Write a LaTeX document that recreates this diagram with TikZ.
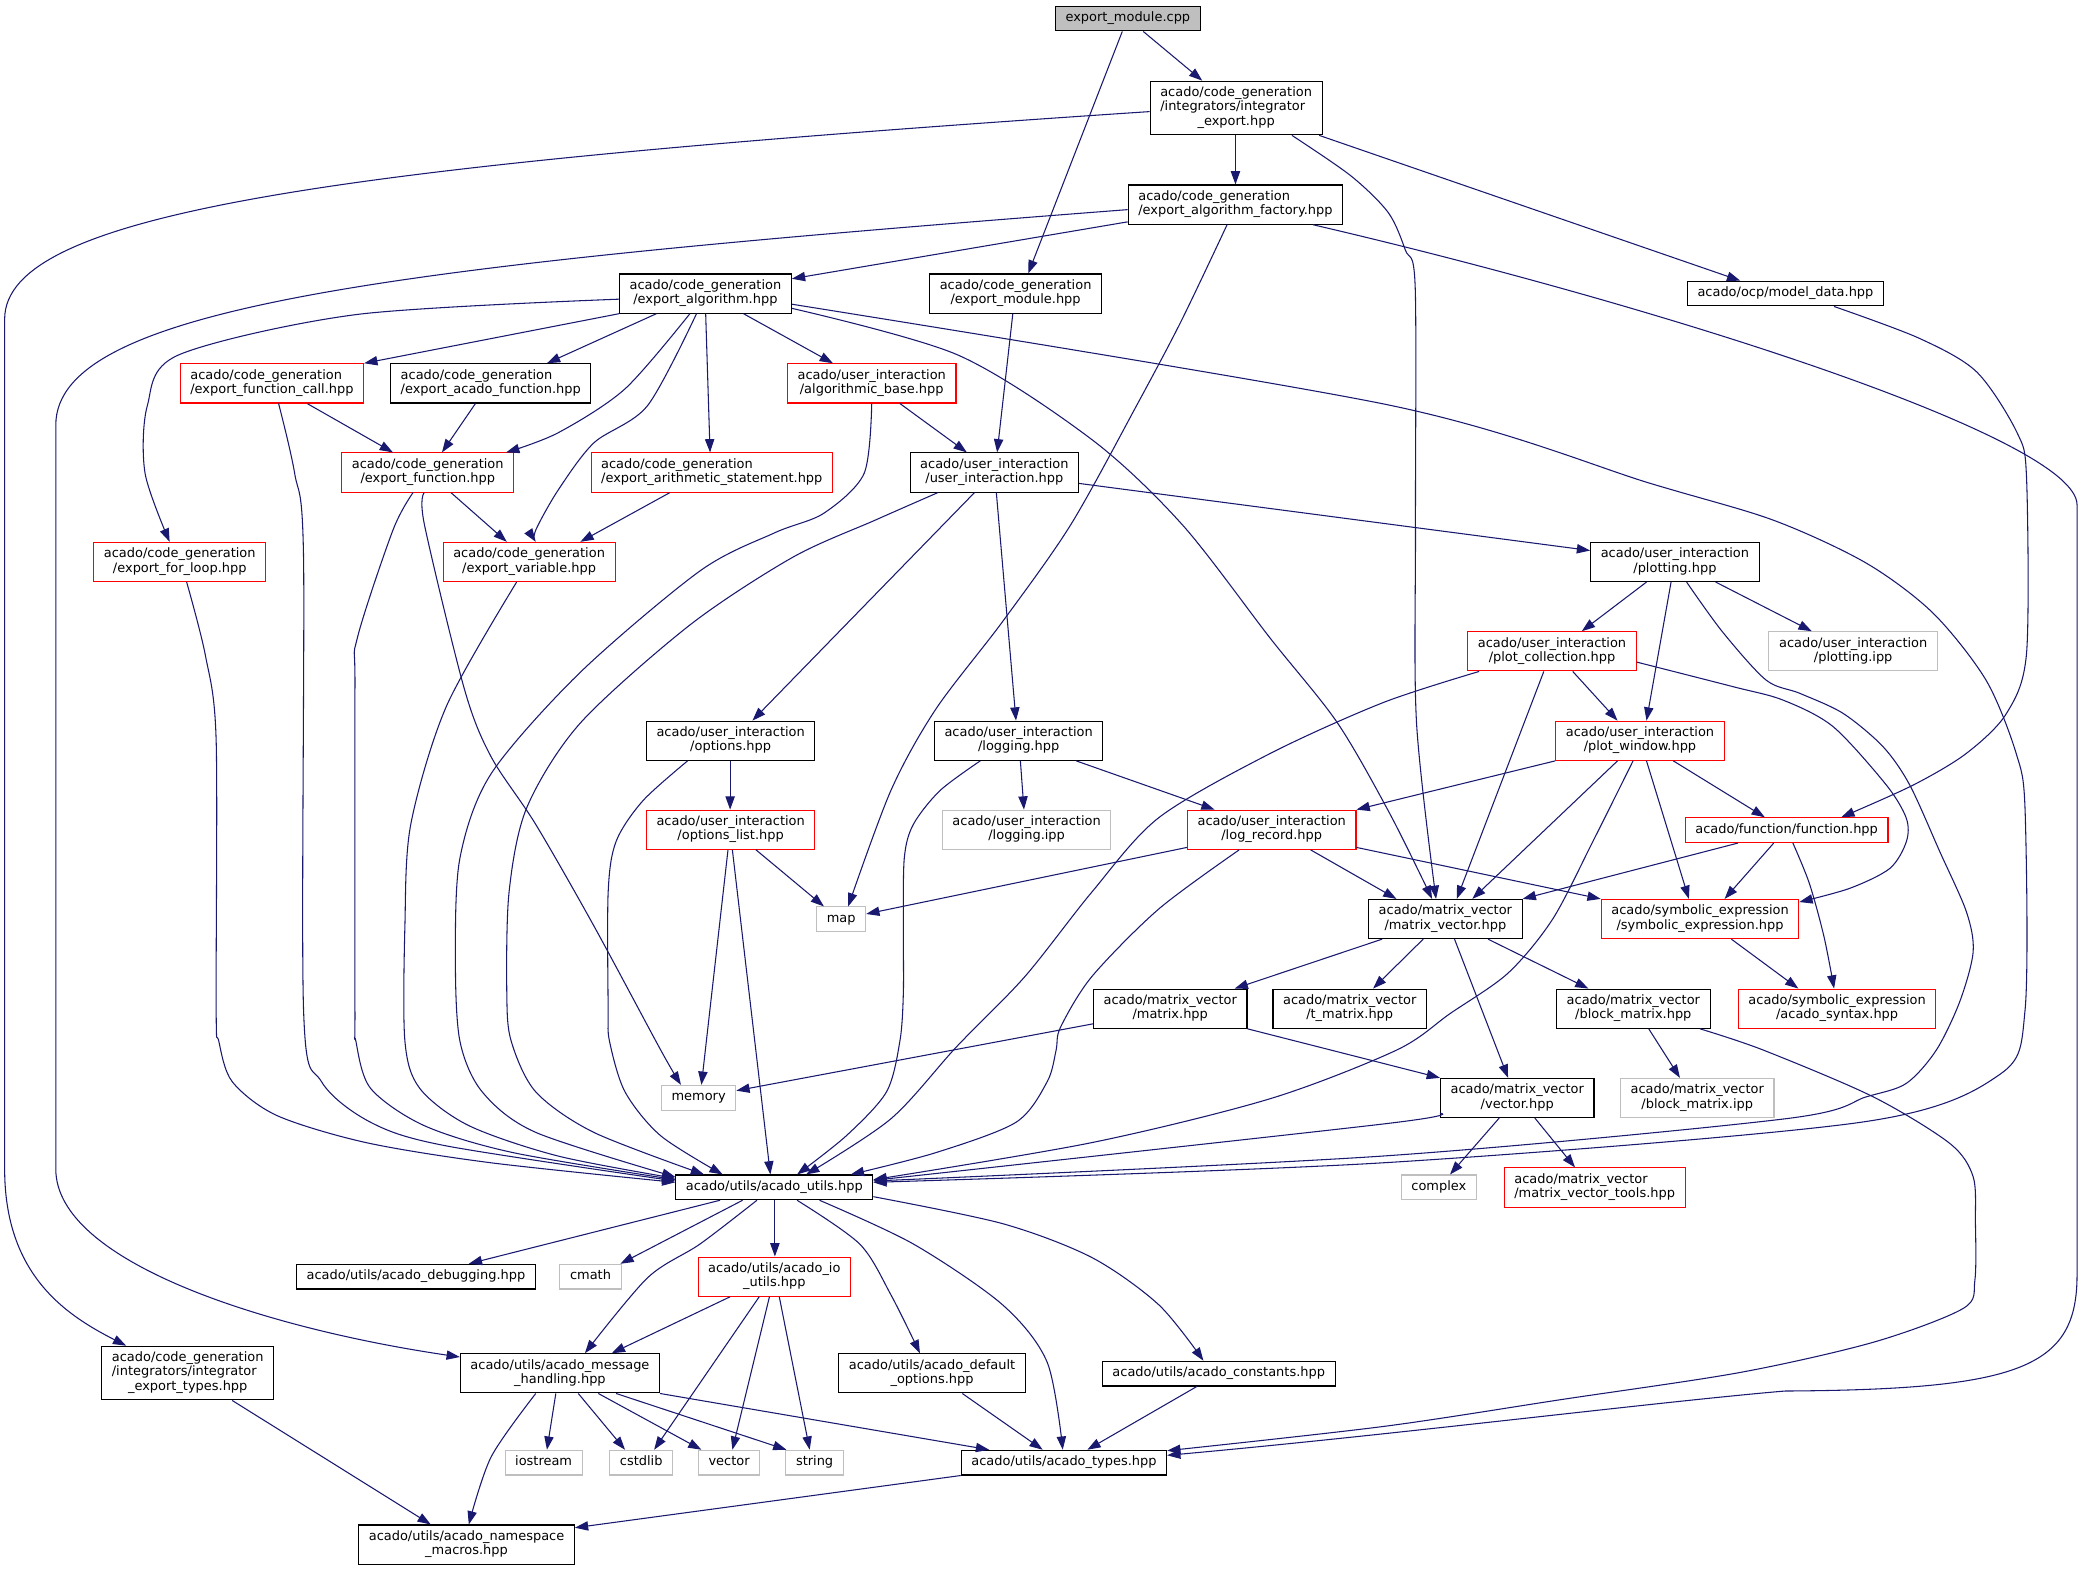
\documentclass[tikz,border=0pt]{standalone}
\usepackage{fontspec}
\setmainfont{DejaVu Sans}
\usetikzlibrary{arrows.meta}
\definecolor{edgec}{HTML}{191970}
\definecolor{grayc}{HTML}{BFBFBF}
\definecolor{rootc}{HTML}{BFBFBF}
\newcommand{\nodefont}{\fontsize{9.75}{10.9}\selectfont}
\newcommand{\oneL}[1]{\begin{tabular}{@{}c@{}}#1\end{tabular}}
\newcommand{\twoL}[2]{\begin{tabular}{@{}l@{}}#1\\\multicolumn{1}{@{}c@{}}{#2}\end{tabular}}
\newcommand{\threeL}[3]{\begin{tabular}{@{}l@{}}#1\\#2\\\multicolumn{1}{@{}c@{}}{#3}\end{tabular}}
\tikzset{
  nb/.style={draw=black, fill=white, line width=0.8pt, inner xsep=7.6pt, inner ysep=3.85pt, font=\nodefont},
  nr/.style={nb, draw=red},
  ng/.style={nb, draw=grayc},
  nroot/.style={nb, fill=rootc},
  edg/.style={draw=edgec, line width=0.8pt, -{Triangle[length=10pt,width=7pt]}},
}
\begin{document}
\begin{tikzpicture}[x=1pt,y=-1pt]
\fill[white] (0,0) rectangle (1568,1183);
\useasboundingbox (0,0) rectangle (1568,1183);
% ---------- nodes ----------
\node[nroot] (A) at (849,14) {\oneL{export\_module.cpp}};
\node[nb] (B) at (930.5,81.3) {\threeL{acado/code\_generation}{/integrators/integrator}{\_export.hpp}};
\node[nb] (C) at (930,154) {\twoL{acado/code\_generation}{/export\_algorithm\_factory.hpp}};
\node[nb] (D) at (531,221) {\twoL{acado/code\_generation}{/export\_algorithm.hpp}};
\node[nb] (E) at (764.5,221) {\twoL{acado/code\_generation}{/export\_module.hpp}};
\node[nb] (F) at (1344,221) {\oneL{acado/ocp/model\_data.hpp}};
\node[nr] (G) at (204.7,288.6) {\twoL{acado/code\_generation}{/export\_function\_call.hpp}};
\node[nb] (H) at (369.4,288.6) {\twoL{acado/code\_generation}{/export\_acado\_function.hpp}};
\node[nr] (I) at (656.2,288.6) {\twoL{acado/user\_interaction}{/algorithmic\_base.hpp}};
\node[nr] (J) at (322,355.7) {\twoL{acado/code\_generation}{/export\_function.hpp}};
\node[nr] (K) at (535.8,355.7) {\twoL{acado/code\_generation}{/export\_arithmetic\_statement.hpp}};
\node[nb] (L) at (748.5,355.7) {\twoL{acado/user\_interaction}{/user\_interaction.hpp}};
\node[nr] (M) at (135.3,423) {\twoL{acado/code\_generation}{/export\_for\_loop.hpp}};
\node[nr] (N) at (398.3,423) {\twoL{acado/code\_generation}{/export\_variable.hpp}};
\node[nb] (O) at (1260.8,423) {\twoL{acado/user\_interaction}{/plotting.hpp}};
\node[nr] (P) at (1168.3,490.3) {\twoL{acado/user\_interaction}{/plot\_collection.hpp}};
\node[ng] (Q) at (1395,490.3) {\twoL{acado/user\_interaction}{/plotting.ipp}};
\node[nr] (R) at (1234.5,557.6) {\twoL{acado/user\_interaction}{/plot\_window.hpp}};
\node[nb] (S) at (550,557.6) {\twoL{acado/user\_interaction}{/options.hpp}};
\node[nb] (T) at (766.8,557.6) {\twoL{acado/user\_interaction}{/logging.hpp}};
\node[nr] (U) at (550,624.6) {\twoL{acado/user\_interaction}{/options\_list.hpp}};
\node[ng] (V) at (772.8,624.6) {\twoL{acado/user\_interaction}{/logging.ipp}};
\node[nr] (W) at (957.3,624.6) {\twoL{acado/user\_interaction}{/log\_record.hpp}};
\node[nr] (X) at (1344.9,624.9) {\oneL{acado/function/function.hpp}};
\node[ng] (Y) at (633.2,692) {\oneL{map}};
\node[nb] (Z) at (1088,691.8) {\twoL{acado/matrix\_vector}{/matrix\_vector.hpp}};
\node[nr] (AA) at (1279.7,691.8) {\twoL{acado/symbolic\_expression}{/symbolic\_expression.hpp}};
\node[nb] (AB) at (880.9,759.3) {\twoL{acado/matrix\_vector}{/matrix.hpp}};
\node[nb] (AC) at (1016,759.3) {\twoL{acado/matrix\_vector}{/t\_matrix.hpp}};
\node[nb] (AD) at (1229.5,759.3) {\twoL{acado/matrix\_vector}{/block\_matrix.hpp}};
\node[nr] (AE) at (1382.9,759.3) {\twoL{acado/symbolic\_expression}{/acado\_syntax.hpp}};
\node[ng] (AF) at (525.9,826.3) {\oneL{memory}};
\node[nb] (AG) at (1142.1,826.5) {\twoL{acado/matrix\_vector}{/vector.hpp}};
\node[ng] (AH) at (1277.6,826.5) {\twoL{acado/matrix\_vector}{/block\_matrix.ipp}};
\node[nb] (AI) at (582.9,893.8) {\oneL{acado/utils/acado\_utils.hpp}};
\node[ng] (AJ) at (1083.1,893.8) {\oneL{complex}};
\node[nr] (AK) at (1200.4,893.9) {\twoL{acado/matrix\_vector}{/matrix\_vector\_tools.hpp}};
\node[nb] (AL) at (313.1,961) {\oneL{acado/utils/acado\_debugging.hpp}};
\node[ng] (AM) at (444.5,961) {\oneL{cmath}};
\node[nr] (AN) at (582.9,961) {\twoL{acado/utils/acado\_io}{\_utils.hpp}};
\node[nb] (AO) at (141.3,1033.6) {\threeL{acado/code\_generation}{/integrators/integrator}{\_export\_types.hpp}};
\node[nb] (AP) at (421.5,1033.8) {\twoL{acado/utils/acado\_message}{\_handling.hpp}};
\node[nb] (AQ) at (701.6,1033.8) {\twoL{acado/utils/acado\_default}{\_options.hpp}};
\node[nb] (AR) at (917.4,1034) {\oneL{acado/utils/acado\_constants.hpp}};
\node[ng] (AS) at (409.2,1101) {\oneL{iostream}};
\node[ng] (AT) at (482.7,1101) {\oneL{cstdlib}};
\node[ng] (AU) at (548.8,1101) {\oneL{vector}};
\node[ng] (AV) at (613.2,1101) {\oneL{string}};
\node[nb] (AW) at (800.9,1101) {\oneL{acado/utils/acado\_types.hpp}};
\node[nb] (AX) at (351.2,1162.7) {\twoL{acado/utils/acado\_namespace}{\_macros.hpp}};
% ---------- edges ----------
\draw[edg] (A.south -| 860.6,0) -- (B.north -| 905,0);
\draw[edg] (A.south -| 844.8,0) -- (E.north -| 774,0);
\draw[edg] (B.south -| 930,0) -- (C.north -| 930,0);
\draw[edg] (B.south -| 993,0) -- (F.north -| 1310,0);
\draw[edg] plot[smooth,tension=0.5] coordinates {(B.south -| 972.5,0) (1016.8,132.3) (1045,160) (1057.9,188.3) (1065.3,216.3) (1065.5,400) (1066.3,544.2) (Z.north -| 1081,0)};
\draw[edg] (B.west |- 0,84) .. controls (250,125) and (4,160) .. (3.5,240) -- (3.5,880) .. controls (3.5,960) and (50,990) .. (AO.north -| 95,0);
\draw[edg] (C.west |- 0,167) -- ([yshift=-4pt]D.north east);
\draw[edg] plot[smooth,tension=0.5] coordinates {(C.south -| 923.7,0) (889.1,241.8) (855.5,305.4) (806,395) (754.7,467.9) (704.3,534) (670.6,595.1) (Y.north -| 638.5,0)};
\draw[edg] (C.west |- 0,157.8) .. controls (300,200) and (42,230) .. (42,320) -- (42,880) .. controls (42,950) and (200,1000) .. (AP.west |- 0,1021.5);
\draw[edg] (C.south -| 988.3,0) .. controls (1250,230) and (1563.5,330) .. (1563.5,380) -- (1563.5,960) .. controls (1563.5,1030) and (1520,1046) .. (1343.6,1047.1) .. controls (1250,1055) and (1050,1080) .. (AW.east |- 0,1095.5);
% export_algorithm
\draw[edg] plot[smooth,tension=0.5] coordinates {(D.west |- 0,225.2) (268.9,236.7) (134.4,267.2) (110.9,305.4) (109.2,356.3) (M.north -| 127.7,0)};
\draw[edg] (D.south west) -- (G.north east);
\draw[edg] (D.south -| 494.1,0) -- (H.north -| 411.7,0);
\draw[edg] plot[smooth,tension=0.5] coordinates {(D.south -| 519.3,0) (470.5,292.7) (420.1,325.8) (J.north -| 381,0)};
\draw[edg] plot[smooth,tension=0.5] coordinates {(D.south -| 524.3,0) (487.4,305.4) (447,333.4) (420.1,369) (403.3,399) (N.north -| 403.3,0)};
\draw[edg] (D.south -| 531.2,0) -- (K.north -| 534.5,0);
\draw[edg] (D.south -| 559.7,0) -- (I.north -| 627,0);
\draw[edg] plot[smooth,tension=0.5] coordinates {(D.east |- 0,232.1) (721,267.2) (821.9,330.9) (890,395) (956.3,480.6) (1006.8,544.2) (1046.4,612.9) (Z.north -| 1078,0)};
\draw[edg] plot[smooth,tension=0.5] coordinates {(D.east |- 0,229) (1046,305) (1242.7,364) (1334.7,391.5) (1404.7,423.8) (1455.1,461.5) (1495,512) (1517.6,566.9) (1524.4,610) (1524.4,760) (1504.9,809.1) (1400.7,844.8) (1041.1,875.3) (AI.east |- 0,890)};
\draw[edg] (E.south -| 762.4,0) -- (L.north -| 750.6,0);
\draw[edg] plot[smooth,tension=0.5] coordinates {(F.south -| 1380.6,0) (1444.4,254.5) (1488,280) (1518.4,325.8) (1525.5,360) (1525.5,491.6) (1510.4,537) (1480.2,567.1) (1440.1,591) (X.north -| 1386,0)};
% second level
\draw[edg] (G.south -| 231.2,0) -- (J.north -| 295.8,0);
\draw[edg] plot[smooth,tension=0.5] coordinates {(G.south -| 209.7,0) (221.8,356.3) (228.5,420) (228.5,760) (242,814.2) (279,844.8) (336.1,862.6) (AI.west |- 0,889)};
\draw[edg] (H.south -| 357.9,0) -- (J.north -| 332.7,0);
\draw[edg] (I.south -| 677.4,0) -- (L.north -| 727.8,0);
\draw[edg] plot[smooth,tension=0.5] coordinates {(I.south -| 656.2,0) (650.5,356.3) (620.2,386.3) (583.3,401) (527,429.7) (436.9,506) (369.7,582.4) (346.2,646) (342.8,722.4) (346.2,783.7) (363,821.9) (403.3,852.4) (AI.west |- 0,886)};
\draw[edg] (J.south -| 339.5,0) -- (N.north -| 381.5,0);
\draw[edg] plot[smooth,tension=0.5] coordinates {(J.south -| 319.3,0) (319.5,395) (349.6,518.8) (369.7,569.7) (403.3,620.6) (447,696.9) (497.4,790.5) (AF.north -| 512.6,0)};
\draw[edg] plot[smooth,tension=0.5] coordinates {(J.south -| 310.9,0) (295.8,399) (268.9,480.6) (267.2,518.8) (267.2,760) (267.9,783.7) (279,819.3) (319.3,847.3) (386.5,867.7) (AI.west |- 0,888)};
\draw[edg] (K.south -| 504.2,0) -- (N.north -| 436.9,0);
\draw[edg] (L.south -| 733.5,0) -- (S.north -| 566.4,0);
\draw[edg] (L.south -| 750,0) -- (T.north -| 764.8,0);
\draw[edg] (L.east |- 0,363.9) -- (O.west |- 0,414.4);
\draw[edg] plot[smooth,tension=0.5] coordinates {(L.south -| 705.9,0) (658.9,391.5) (596.7,419.5) (519.4,470.4) (436.9,544.2) (396.6,607.8) (383.2,671.5) (381.5,747.8) (384.8,783.7) (403.3,821.9) (447,852.4) (AI.north -| 530,0)};
\draw[edg] plot[smooth,tension=0.5] coordinates {(M.south -| 140.5,0) (154.6,493.3) (162.7,556.9) (162.7,760) (164.7,783.7) (174.8,814.2) (208.4,839.7) (275.6,860.1) (369.7,875.3) (AI.west |- 0,890)};
\draw[edg] plot[smooth,tension=0.5] coordinates {(N.south -| 388.9,0) (336.1,531.5) (309.2,620.6) (304.8,696.9) (304.8,783.7) (316,819.3) (352.9,847.3) (420.1,870.2) (AI.west |- 0,887)};
% user interaction
\draw[edg] (S.south -| 549.6,0) -- (U.north -| 549.6,0);
\draw[edg] plot[smooth,tension=0.5] coordinates {(S.south -| 517.6,0) (484,602.7) (463.8,633.3) (457.8,671.5) (457.8,760) (458.8,783.7) (470.5,821.9) (497.4,855) (AI.north -| 544,0)};
\draw[edg] (T.south -| 768.1,0) -- (V.north -| 770.8,0);
\draw[edg] (T.south -| 810.1,0) -- (W.north -| 914.3,0);
\draw[edg] plot[smooth,tension=0.5] coordinates {(T.south -| 737.9,0) (707.6,595.1) (687.5,620.6) (680.7,646) (680,700) (680,747.8) (677.4,783.7) (667.3,821.9) (637,855) (AI.north -| 600,0)};
\draw[edg] (U.south -| 569.1,0) -- (Y.north -| 620.2,0);
\draw[edg] (U.south -| 548,0) -- (AF.north -| 528,0);
\draw[edg] (U.south -| 551.3,0) -- (AI.north -| 579.9,0);
\draw[edg] (W.west |- 0,637.9) -- (Y.east |- 0,688);
\draw[edg] (W.south -| 986.6,0) -- (Z.north -| 1051.2,0);
\draw[edg] (W.east |- 0,637.9) -- (AA.north west);
\draw[edg] plot[smooth,tension=0.5] coordinates {(W.south -| 932.8,0) (872.3,684.2) (821.9,735.1) (798.3,773.3) (795,790.5) (788.3,814.2) (764.8,844.8) (704.3,867.7) (AI.north -| 640.4,0)};
% plotting
\draw[edg] (O.south -| 1239.4,0) -- (P.north -| 1190.7,0);
\draw[edg] (O.south -| 1257.9,0) -- (R.north -| 1239.4,0);
\draw[edg] (O.south -| 1291.5,0) -- (Q.north -| 1363.8,0);
\draw[edg] plot[smooth,tension=0.5] coordinates {(O.south -| 1269.6,0) (1296.5,475.5) (1329.4,511.9) (1354.8,521.9) (1387.4,537) (1417.5,562.1) (1437.6,591) (1460.2,641.1) (1480.2,686.3) (1485.3,716.4) (1475.2,754) (1457.6,790.4) (1435,815.5) (1405,825.6) (1343.6,842.2) (1041.1,870.2) (AI.east |- 0,889)};
\draw[edg] (P.south -| 1183.9,0) -- (R.north -| 1217.6,0);
\draw[edg] (P.south -| 1162.1,0) -- (Z.north -| 1096.6,0);
\draw[edg] plot[smooth,tension=0.5] coordinates {(P.east |- 0,498.4) (1304.6,516.9) (1342.2,527) (1379.9,547) (1420,591) (1435,616) (1435,633.6) (1422.6,653.7) (1392.4,668.7) (AA.east |- 0,679)};
\draw[edg] plot[smooth,tension=0.5] coordinates {(P.south -| 1113.4,0) (1041.1,528.9) (956.3,567.1) (872.3,615.5) (821.9,671.5) (771.5,735.1) (720,788) (670.6,842.2) (AI.north -| 606.8,0)};
\draw[edg] (R.south west) -- (W.north east);
\draw[edg] (R.south -| 1259.6,0) -- (X.north -| 1328.5,0);
\draw[edg] (R.south -| 1217.6,0) -- (Z.north -| 1108.3,0);
\draw[edg] (R.south -| 1239.4,0) -- (AA.north -| 1271.3,0);
\draw[edg] plot[smooth,tension=0.5] coordinates {(R.south -| 1229.3,0) (1199.1,633.3) (1168.8,691.8) (1135.2,732.5) (1091.5,763) (1051.2,790.5) (956.3,827) (821.9,860.1) (AI.east |- 0,888)};
% function / symbolic
\draw[edg] (X.south -| 1308.3,0) -- (Z.north east);
\draw[edg] (X.south -| 1335.2,0) -- (AA.north -| 1298.2,0);
\draw[edg] plot[smooth,tension=0.5] coordinates {(X.south -| 1349.6,0) (1362,665) (1373,705) (AE.north -| 1380.6,0)};
\draw[edg] (AA.south -| 1303.3,0) -- (AE.north -| 1353.7,0);
% matrix_vector
\draw[edg] (Z.south -| 1040.4,0) -- (AB.north -| 929.4,0);
\draw[edg] (Z.south -| 1071.3,0) -- (AC.north -| 1033.6,0);
\draw[edg] (Z.south -| 1120.1,0) -- (AD.north -| 1195.7,0);
\draw[edg] (Z.south -| 1094.9,0) -- (AG.north -| 1135.2,0);
\draw[edg] (AB.west |- 0,770.7) -- (AF.east |- 0,821);
\draw[edg] (AB.south east) -- (AG.north west);
\draw[edg] (AD.south -| 1241.1,0) -- (AH.north -| 1264.6,0);
\draw[edg] plot[smooth,tension=0.5] coordinates {(AD.south -| 1279.7,0) (1327.2,790.4) (1410,825.6) (1467.7,860.7) (1485.3,885.8) (1487,920) (1486.6,963.6) (1478,984.8) (1410.8,1010.2) (1310,1033.1) (1175.5,1053.5) (1041.1,1073.8) (AW.east |- 0,1092)};
\draw[edg] (AG.south -| 1128.5,0) -- (AJ.north -| 1091.5,0);
\draw[edg] (AG.south -| 1155.4,0) -- (AK.north -| 1185.6,0);
\draw[edg] plot[smooth,tension=0.5] coordinates {(AG.west |- 0,838) (1041.1,846.1) (AI.east |- 0,888.5)};
% acado_utils
\draw[edg] (AI.south -| 542,0) -- (AL.north -| 352.9,0);
\draw[edg] (AI.south -| 559,0) -- (AM.north -| 467,0);
\draw[edg] plot[smooth,tension=0.5] coordinates {(AI.south -| 569.8,0) (527,936.4) (487.4,961.9) (AP.north -| 440.3,0)};
\draw[edg] (AI.south -| 583.3,0) -- (AN.north -| 583.3,0);
\draw[edg] plot[smooth,tension=0.5] coordinates {(AI.south -| 600,0) (647.1,936.4) (670.6,974.6) (AQ.north -| 692.5,0)};
\draw[edg] plot[smooth,tension=0.5] coordinates {(AI.south -| 616.9,0) (687.5,936.4) (754.7,982.2) (788.3,1025.5) (AW.north -| 800,0)};
\draw[edg] plot[smooth,tension=0.5] coordinates {(AI.east |- 0,900.8) (754.7,921.1) (821.9,946.6) (872.3,982.2) (AR.north -| 905.9,0)};
\draw[edg] (AN.south -| 549.6,0) -- (AP.north -| 460.5,0);
\draw[edg] (AN.south -| 571.5,0) -- (AT.north -| 492.4,0);
\draw[edg] (AN.south -| 579.2,0) -- (AU.north -| 551.3,0);
\draw[edg] (AN.south -| 586.6,0) -- (AV.north -| 609.5,0);
\draw[edg] (AP.south -| 418.4,0) -- (AS.north -| 411.7,0);
\draw[edg] (AP.south -| 435.3,0) -- (AT.north -| 470.5,0);
\draw[edg] (AP.south -| 450.4,0) -- (AU.north -| 528,0);
\draw[edg] (AP.south -| 463.8,0) -- (AV.north -| 592,0);
\draw[edg] (AP.south east) -- (AW.north -| 744.6,0);
\draw[edg] plot[smooth,tension=0.5] coordinates {(AP.south -| 403.3,0) (369.7,1096.7) (AX.north -| 352.9,0)};
\draw[edg] (AQ.south -| 724.4,0) -- (AW.north -| 784.9,0);
\draw[edg] (AR.south -| 900.9,0) -- (AW.north -| 818.5,0);
\draw[edg] (AW.south west) -- (AX.east |- 0,1150);
\draw[edg] (AO.south -| 174.8,0) -- (AX.north -| 324.3,0);
\end{tikzpicture}
\end{document}
